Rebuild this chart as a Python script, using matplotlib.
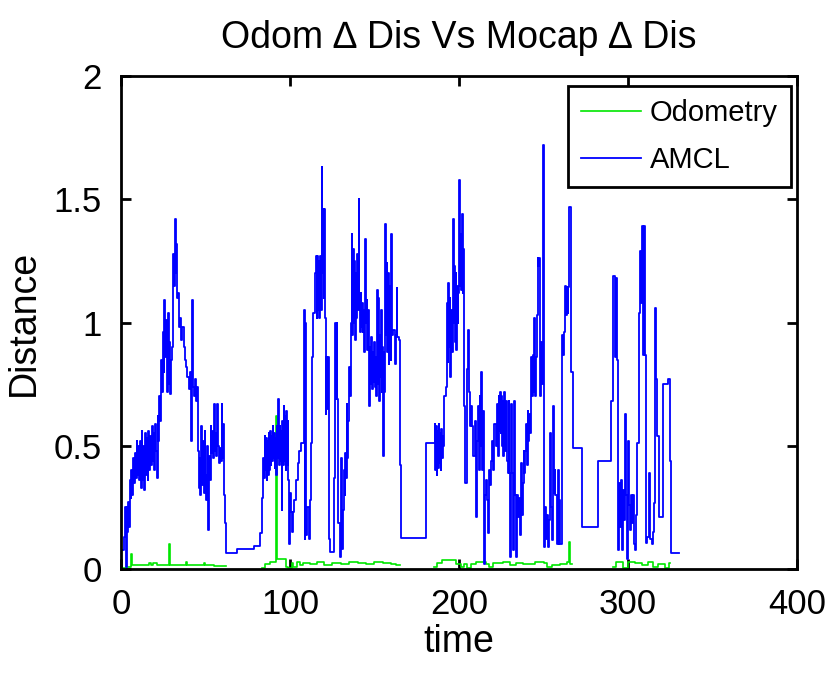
import numpy as np
import matplotlib
matplotlib.use("Agg")
import matplotlib.pyplot as plt

plt.rcParams['font.family'] = ['Liberation Sans', 'DejaVu Sans']

# AMCL delta distance (time, value), held as steps
amcl_t = [0.0, 2.0, 2.6, 3.0, 3.4, 3.8, 4.3, 4.8, 5.2, 5.7, 6.2, 6.7, 7.2, 7.7, 8.2, 8.7,
          9.2, 9.7, 10.2, 10.7, 11.2, 11.7, 12.2, 12.7, 13.2, 13.7, 14.2, 14.7, 15.2, 15.7,
          16.2, 16.7, 17.2, 17.7, 18.2, 18.7, 19.2, 19.7, 20.2, 20.7, 21.2, 21.7, 22.2, 22.7,
          23.2, 23.7, 24.2, 24.7, 25.2, 25.7, 26.2, 26.7, 27.2, 27.7, 28.2, 28.7, 29.2, 29.7,
          30.2, 30.8, 31.3, 31.8, 32.3, 32.8, 33.3, 33.8, 34.3, 34.8, 35.5, 36.2, 37.0, 37.8,
          38.5, 39.3, 40.0, 40.6, 41.2, 41.8, 42.2, 42.6, 43.2, 43.8, 44.4, 45.0, 45.5, 46.0,
          46.5, 47.0, 47.5, 48.0, 48.5, 49.0, 49.5, 50.0, 50.5, 51.0, 51.5, 52.0, 52.5, 53.0,
          53.5, 54.0, 54.5, 55.0, 55.5, 56.0, 56.5, 57.0, 57.5, 58.0, 58.5, 59.0, 59.5, 60.0,
          60.5, 61.0, 61.4, 62.4, 68.4, 78.8, 82.1, 83.2, 84.2, 84.6, 85.0, 85.4, 85.8, 86.2,
          86.6, 87.0, 87.4, 87.8, 88.2, 88.6, 89.0, 89.4, 89.8, 90.2, 90.6, 91.0, 91.4, 91.8,
          92.2, 92.6, 93.0, 93.4, 93.8, 94.2, 94.6, 95.0, 95.4, 95.8, 96.2, 96.6, 97.0, 97.4,
          97.8, 98.2, 98.6, 99.0, 99.5, 100.0, 100.6, 101.2, 101.8, 102.6, 103.6, 104.6, 105.6,
          106.8, 108.0, 108.6, 109.0, 109.4, 110.0, 111.4, 111.8, 112.4, 113.2, 113.8, 114.6,
          115.4, 115.8, 116.2, 116.6, 117.0, 117.4, 117.8, 118.2, 118.7, 119.1, 119.5, 119.9,
          120.3, 120.7, 121.1, 121.6, 122.0, 122.4, 122.8, 123.2, 123.6, 126.2, 126.8, 127.2,
          127.6, 128.0, 128.6, 129.4, 130.4, 130.8, 131.2, 131.8, 132.4, 132.8, 133.2, 133.6,
          134.0, 134.4, 134.9, 135.4, 136.0, 136.4, 136.8, 137.2, 137.6, 138.0, 138.4, 138.8,
          139.2, 139.6, 140.0, 140.6, 141.0, 141.4, 141.8, 142.2, 142.6, 143.0, 143.4, 144.0,
          144.6, 145.0, 145.4, 145.8, 146.2, 146.6, 147.0, 147.4, 147.8, 148.2, 148.6, 149.0,
          149.4, 149.8, 150.2, 150.6, 151.0, 151.4, 151.8, 152.2, 152.6, 153.0, 153.4, 153.8,
          154.2, 154.6, 155.0, 155.4, 155.8, 156.4, 156.8, 157.2, 157.6, 158.0, 158.4, 158.8,
          159.2, 159.6, 160.0, 160.4, 161.2, 162.0, 162.6, 163.2, 163.6, 164.4, 164.9, 165.8,
          180.6, 185.6, 186.0, 186.4, 186.8, 187.2, 187.6, 188.0, 188.4, 188.8, 189.2, 189.6,
          190.0, 190.4, 190.8, 191.4, 192.2, 192.8, 193.2, 193.6, 194.0, 194.4, 194.8, 195.4,
          195.8, 196.4, 196.8, 197.2, 197.6, 198.0, 198.4, 198.8, 199.2, 199.6, 200.2, 200.6,
          201.0, 201.4, 201.8, 202.2, 202.6, 203.0, 203.8, 204.6, 205.4, 206.0, 206.6, 207.2,
          207.8, 208.4, 209.2, 209.8, 210.4, 211.0, 211.6, 212.2, 212.6, 213.0, 213.6, 214.2,
          214.8, 215.6, 216.2, 216.8, 217.4, 218.0, 218.6, 219.2, 219.8, 220.4, 221.0, 221.6,
          222.2, 222.8, 223.4, 223.8, 224.2, 224.6, 225.0, 225.4, 225.8, 226.2, 226.6, 227.0,
          227.6, 228.2, 228.8, 229.4, 229.8, 230.4, 230.8, 231.4, 231.8, 232.4, 233.0, 233.6,
          234.2, 234.8, 235.4, 236.0, 236.6, 237.2, 237.7, 238.2, 238.7, 239.2, 239.7, 240.2,
          240.6, 241.1, 241.6, 242.1, 242.6, 243.1, 243.6, 244.1, 244.6, 245.1, 245.6, 246.0,
          246.5, 247.0, 247.5, 248.0, 248.5, 249.0, 249.5, 250.0, 250.5, 251.0, 251.5, 252.0,
          252.5, 253.2, 253.8, 254.4, 255.0, 255.5, 256.0, 256.5, 257.0, 257.7, 258.4, 258.9,
          259.4, 260.0, 260.7, 261.2, 261.7, 262.2, 262.7, 263.2, 263.7, 264.2, 264.7, 265.3,
          266.3, 267.2, 272.6, 282.3, 289.7, 291.4, 292.4, 292.9, 293.6, 294.3, 294.9, 295.4,
          295.9, 296.5, 297.2, 297.8, 298.4, 298.9, 299.5, 300.0, 300.6, 301.2, 301.8, 302.4,
          303.0, 303.6, 304.2, 304.8, 305.5, 306.3, 307.0, 307.6, 308.2, 308.8, 309.4, 310.0,
          310.6, 311.4, 312.2, 312.8, 313.4, 314.0, 314.6, 315.2, 315.8, 316.4, 317.2, 318.2,
          320.4, 323.8, 324.8, 325.6, 330.3]
amcl_v = [0.077, 0.13, 0.25, 0.01, 0.25, 0.15, 0.27, 0.17, 0.36, 0.29, 0.40, 0.30, 0.45, 0.35, 0.47, 0.37,
          0.52, 0.38, 0.50, 0.36, 0.52, 0.33, 0.56, 0.36, 0.50, 0.32, 0.55, 0.38, 0.53, 0.36,
          0.56, 0.40, 0.54, 0.42, 0.58, 0.44, 0.55, 0.40, 0.59, 0.48, 0.37, 0.62, 0.52, 0.70,
          0.60, 0.85, 0.72, 0.96, 0.80, 1.09, 0.86, 1.01, 0.72, 1.04, 0.75, 0.92, 0.71, 0.85,
          0.90, 1.28, 1.15, 1.42, 1.20, 1.32, 1.10, 1.12, 0.98, 1.02, 0.93, 0.98, 0.90, 0.85,
          0.82, 0.78, 0.73, 0.80, 0.52, 0.76, 1.09, 0.74, 0.70, 0.77, 0.68, 0.74, 0.48, 0.33,
          0.45, 0.30, 0.58, 0.34, 0.52, 0.31, 0.56, 0.38, 0.28, 0.50, 0.16, 0.46, 0.36, 0.58,
          0.47, 0.56, 0.45, 0.67, 0.48, 0.55, 0.46, 0.67, 0.50, 0.43, 0.49, 0.44, 0.67, 0.45,
          0.59, 0.30, 0.185, 0.064, 0.08, 0.093, 0.145, 0.29, 0.45, 0.37, 0.54, 0.40, 0.53, 0.36,
          0.52, 0.38, 0.55, 0.40, 0.56, 0.42, 0.54, 0.44, 0.58, 0.45, 0.55, 0.41, 0.53, 0.38,
          0.58, 0.45, 0.69, 0.42, 0.58, 0.44, 0.56, 0.24, 0.60, 0.42, 0.66, 0.44, 0.62, 0.40,
          0.64, 0.42, 0.60, 0.36, 0.10, 0.31, 0.23, 0.15, 0.23, 0.28, 0.36, 0.43, 0.48,
          0.51, 1.05, 0.12, 1.0, 0.14, 0.25, 0.12, 0.28, 0.51, 0.86, 1.04, 1.20,
          1.27, 1.02, 1.27, 1.05, 1.25, 1.02, 1.27, 1.05, 1.63, 1.20, 1.46, 1.10,
          1.46, 1.02, 0.63, 0.86, 0.65, 0.86, 0.63, 0.12, 0.07, 0.37, 1.0, 0.69,
          1.0, 0.69, 0.185, 0.05, 0.45, 0.08, 0.24, 0.40, 0.30, 0.47, 0.37, 0.67,
          0.45, 0.60, 0.82, 0.70, 1.00, 1.36, 0.95, 1.30, 1.00, 1.25, 0.93, 1.20,
          1.02, 1.28, 1.05, 1.50, 1.10, 0.96, 1.12, 0.98, 1.08, 0.96, 1.05, 0.88,
          1.34, 1.00, 1.09, 0.89, 1.05, 0.92, 0.66, 0.90, 0.75, 0.94, 0.73, 0.88,
          0.76, 0.92, 0.74, 0.86, 0.70, 1.13, 0.75, 1.10, 0.68, 0.95, 0.78, 1.05,
          0.72, 0.90, 0.46, 0.88, 0.72, 1.40, 0.95, 1.24, 0.88, 1.20, 0.83, 1.15,
          0.95, 0.85, 1.36, 0.95, 0.97, 0.83, 0.95, 1.14, 0.94, 0.93, 0.42, 0.126,
          0.51, 0.59, 0.40, 0.58, 0.38, 0.56, 0.41, 0.59, 0.43, 0.55, 0.40, 0.57,
          0.45, 0.54, 0.50, 0.70, 0.74, 1.08, 0.84, 1.16, 0.90, 1.10, 0.78, 1.05,
          0.88, 1.42, 1.00, 1.23, 0.92, 1.20, 0.89, 1.15, 1.00, 1.12, 1.58, 1.15,
          1.36, 1.13, 1.44, 1.12, 1.30, 0.66, 0.35, 0.81, 0.97, 0.72, 0.58, 0.66,
          0.58, 0.46, 0.60, 0.21, 0.52, 0.66, 0.40, 0.70, 0.50, 0.80, 0.40, 0.64,
          0.02, 0.30, 0.36, 0.28, 0.145, 0.40, 0.34, 0.44, 0.52, 0.40, 0.59, 0.50,
          0.67, 0.46, 0.70, 0.56, 0.72, 0.55, 0.70, 0.50, 0.68, 0.46, 0.72, 0.48,
          0.68, 0.44, 0.39, 0.68, 0.39, 0.05, 0.67, 0.39, 0.077, 0.68, 0.30, 0.05,
          0.30, 0.21, 0.29, 0.14, 0.43, 0.22, 0.35, 0.48, 0.39, 0.48, 0.59, 0.42,
          0.64, 0.52, 0.63, 0.55, 0.86, 0.70, 0.87, 0.72, 1.02, 0.70, 0.86, 1.03,
          1.26, 1.23, 1.26, 0.70, 0.92, 0.75, 1.72, 0.90, 0.09, 0.25, 0.12, 0.22,
          0.09, 0.20, 0.55, 0.25, 0.118, 0.66, 0.31, 0.40, 0.30, 0.10, 0.40, 0.10,
          0.28, 0.10, 0.70, 0.95, 0.87, 0.96, 1.15, 1.03, 1.145, 1.04, 1.145, 1.47,
          0.80, 0.49, 0.172, 0.44, 0.68, 1.19, 0.86, 1.18, 0.85, 0.077, 0.35, 0.17,
          0.36, 0.077, 0.32, 0.20, 0.63, 0.30, 0.04, 0.52, 0.26, 0.157, 0.30, 0.185,
          0.30, 0.10, 0.077, 0.22, 0.51, 1.04, 1.29, 1.08, 1.39, 0.87, 1.39, 0.87,
          0.105, 0.13, 0.39, 0.12, 0.12, 0.10, 0.15, 0.266, 1.06, 0.77, 0.54, 0.21,
          0.75, 0.77, 0.44, 0.066, 0.066]

# Odometry delta distance (NaN = no samples)
odom_t = [0.5, 3.0, 5.8, 6.3, 10.0, 16.5, 17.5, 19.0, 21.5, 28.7, 29.2, 38.5, 39.0, 49.3,
          50.0, 55.0, 62.0, 83.5, 85.0, 88.0, 91.8, 92.3, 97.5, 99.0, 101.0, 102.0, 104.0,
          106.0, 107.5, 112.0, 116.0, 120.0, 125.0, 130.0, 135.0, 140.0, 145.0, 150.0,
          155.0, 160.0, 163.0, 165.0, 185.5, 187.0, 190.0, 197.0, 198.0, 201.0, 203.0,
          205.0, 207.0, 210.0, 216.0, 218.0, 220.0, 226.0, 230.0, 234.0, 238.0, 245.0,
          250.0, 252.0, 255.0, 260.0, 264.0, 265.2, 265.6, 267.0, 291.0, 293.0, 297.0,
          300.0, 304.0, 308.0, 312.0, 315.0, 318.0, 322.0, 324.0, 325.0]
odom_v = [0.005, 0.01, 0.06, 0.018, 0.015, 0.025, 0.018, 0.025, 0.015, 0.10, 0.015, 0.03,
          0.015, 0.025, 0.015, 0.012, np.nan, 0.005, 0.02, 0.03, 0.62, 0.04, 0.01, 0.005,
          0.025, 0.01, 0.03, 0.015, 0.025, 0.02, 0.03, 0.015, 0.025, 0.02, 0.03, 0.025,
          0.02, 0.03, 0.025, 0.02, 0.015, np.nan, 0.01, 0.025, 0.035, 0.035, 0.02, 0.01,
          0.02, 0.005, 0.02, 0.03, 0.02, 0.01, 0.025, 0.03, 0.015, 0.025, 0.02, 0.03,
          0.025, 0.01, 0.015, 0.02, 0.03, 0.11, 0.02, np.nan, 0.01, 0.03, 0.005, 0.03,
          0.025, 0.015, 0.03, 0.01, 0.02, 0.005, 0.025, np.nan]

xticks = [0, 100, 200, 300, 400]
yticks = [0, 0.5, 1, 1.5, 2]
ytick_labels = ['0', '0.5', '1', '1.5', '2']

fig = plt.figure(figsize=(8.36, 6.73), dpi=100)
ax = fig.add_axes([0.1447, 0.1545, 0.8087, 0.7325])

ax.plot(odom_t, odom_v, color='#00e600', lw=1.2, drawstyle='steps-post', label='Odometry')
ax.plot(amcl_t, amcl_v, color='#0000ff', lw=1.3, drawstyle='steps-post', label='AMCL')

ax.set_xlim(0, 400)
ax.set_ylim(0, 2)
ax.set_xticks(xticks)
ax.set_yticks(yticks)
ax.set_yticklabels(ytick_labels)
ax.tick_params(direction='in', length=7, width=2, top=True, right=True,
               labelsize=25, pad=14)
for s in ax.spines.values():
    s.set_linewidth(2)

ax.set_xlabel('time', fontsize=27, labelpad=2)
ax.set_ylabel('Distance', fontsize=27, labelpad=8)
ax.set_title('Odom \u2206 Dis Vs Mocap \u2206 Dis', fontsize=27, pad=20)

leg = ax.legend(loc='upper right', bbox_to_anchor=(0.991, 0.98), borderaxespad=0,
                fontsize=21, fancybox=False, edgecolor='black', framealpha=1,
                handlelength=2.05, handletextpad=0.3, labelspacing=0.65, borderpad=0.45)
leg.get_frame().set_linewidth(2)

fig.savefig('out.png', dpi=100)
